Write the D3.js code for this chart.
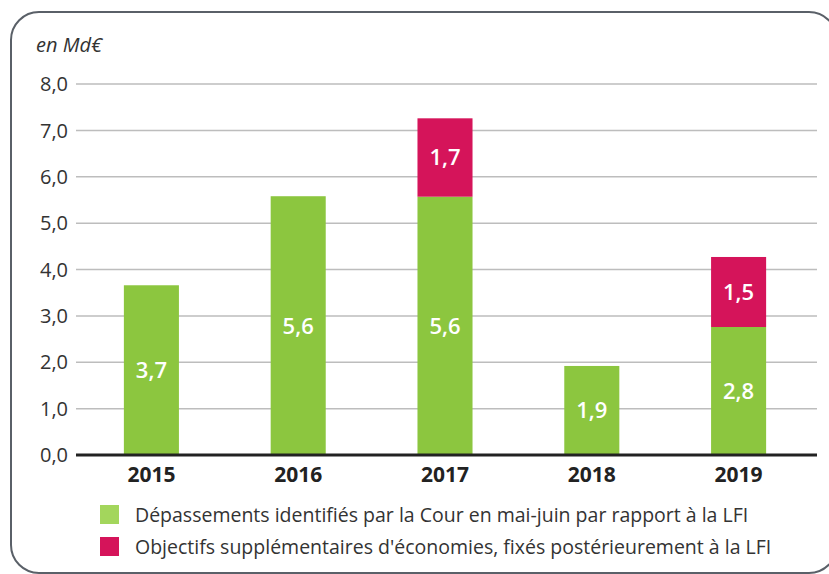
<!DOCTYPE html>
<html>
<head>
<meta charset="utf-8">
<script src="https://cdn.jsdelivr.net/npm/d3@7"></script>
<style>
  body { margin: 0; background: #fff; }
  svg { display: block; font-family: "Open Sans", sans-serif; }
</style>
</head>
<body>
<div id="chart"></div>
<script>
// Data
const years = ["2015", "2016", "2017", "2018", "2019"];
const depassements = [3.66, 5.58, 5.57, 1.92, 2.76];
const objectifs = [0, 0, 1.69, 0, 1.51];
const yTicks = [0, 1, 2, 3, 4, 5, 6, 7, 8];
const legendLabels = [
  "Dépassements identifiés par la Cour en mai-juin par rapport à la LFI",
  "Objectifs supplémentaires d'économies, fixés postérieurement à la LFI"
];

const W = 829, H = 574;
const green = "#8cc63f", greenLegend = "#a3d65c", pink = "#d5145a";

const svg = d3.select("#chart").append("svg")
  .attr("width", W)
  .attr("height", H);

// frame with rounded corners (right edge runs off the picture)
svg.append("rect")
  .attr("x", 11).attr("y", 12)
  .attr("width", 826).attr("height", 561)
  .attr("rx", 28)
  .attr("fill", "none")
  .attr("stroke", "#5a6068")
  .attr("stroke-width", 2);

const x = d3.scaleBand()
  .domain(years)
  .range([78, 812])
  .paddingInner(0.625)
  .paddingOuter(0.3125);

const y = d3.scaleLinear()
  .domain([0, 8])
  .range([455, 84]);

const fmt = (v) => d3.format(".1f")(v).replace(".", ",");

// grid lines
svg.append("g").selectAll("line")
  .data(yTicks.filter(t => t > 0))
  .join("line")
  .attr("x1", 76).attr("x2", 817)
  .attr("y1", d => y(d)).attr("y2", d => y(d))
  .attr("stroke", "#bdbdbd")
  .attr("stroke-width", 1.5);

// y tick labels
svg.append("g").selectAll("text")
  .data(yTicks)
  .join("text")
  .attr("x", 68)
  .attr("y", d => y(d))
  .attr("dy", "0.36em")
  .attr("text-anchor", "end")
  .attr("font-size", 20)
  .attr("fill", "#333")
  .text(d => fmt(d));

svg.append("text")
  .attr("x", 36).attr("y", 52)
  .attr("font-size", 20)
  .attr("font-style", "italic")
  .attr("fill", "#333")
  .text("en Md€");

// green bars
svg.append("g").selectAll("rect")
  .data(years)
  .join("rect")
  .attr("x", d => x(d))
  .attr("width", x.bandwidth())
  .attr("y", (d, i) => y(depassements[i]))
  .attr("height", (d, i) => y(0) - y(depassements[i]))
  .attr("fill", green);

// pink bars stacked on top
svg.append("g").selectAll("rect")
  .data(years.filter((d, i) => objectifs[i] > 0))
  .join("rect")
  .attr("x", d => x(d))
  .attr("width", x.bandwidth())
  .attr("y", d => {
    const i = years.indexOf(d);
    return y(depassements[i] + objectifs[i]);
  })
  .attr("height", d => {
    const i = years.indexOf(d);
    return y(depassements[i]) - y(depassements[i] + objectifs[i]);
  })
  .attr("fill", pink);

// value labels
const labels = svg.append("g")
  .attr("font-size", 22)
  .attr("font-weight", 600)
  .attr("fill", "#fff")
  .attr("text-anchor", "middle");

years.forEach((yr, i) => {
  const cx = x(yr) + x.bandwidth() / 2;
  labels.append("text")
    .attr("x", cx)
    .attr("y", (y(0) + y(depassements[i])) / 2)
    .attr("dy", "0.36em")
    .text(fmt(depassements[i]));
  if (objectifs[i] > 0) {
    labels.append("text")
      .attr("x", cx)
      .attr("y", (y(depassements[i]) + y(depassements[i] + objectifs[i])) / 2)
      .attr("dy", "0.36em")
      .text(fmt(objectifs[i]));
  }
});

// x axis
svg.append("line")
  .attr("x1", 76).attr("x2", 817)
  .attr("y1", y(0)).attr("y2", y(0))
  .attr("stroke", "#222")
  .attr("stroke-width", 3);

svg.append("g").selectAll("text")
  .data(years)
  .join("text")
  .attr("x", d => x(d) + x.bandwidth() / 2)
  .attr("y", 482)
  .attr("text-anchor", "middle")
  .attr("font-size", 21)
  .attr("font-weight", 700)
  .attr("fill", "#222")
  .text(d => d);

// legend
const legend = svg.append("g");
const legendColors = [greenLegend, pink];
legendLabels.forEach((lab, i) => {
  const ly = 505 + i * 32;
  legend.append("rect")
    .attr("x", 100).attr("y", ly)
    .attr("width", 19).attr("height", 19)
    .attr("fill", legendColors[i]);
  legend.append("text")
    .attr("x", 135).attr("y", ly + 10)
    .attr("dy", "0.35em")
    .attr("font-size", 19.5)
    .attr("fill", "#333")
    .text(lab);
});
</script>
</body>
</html>
